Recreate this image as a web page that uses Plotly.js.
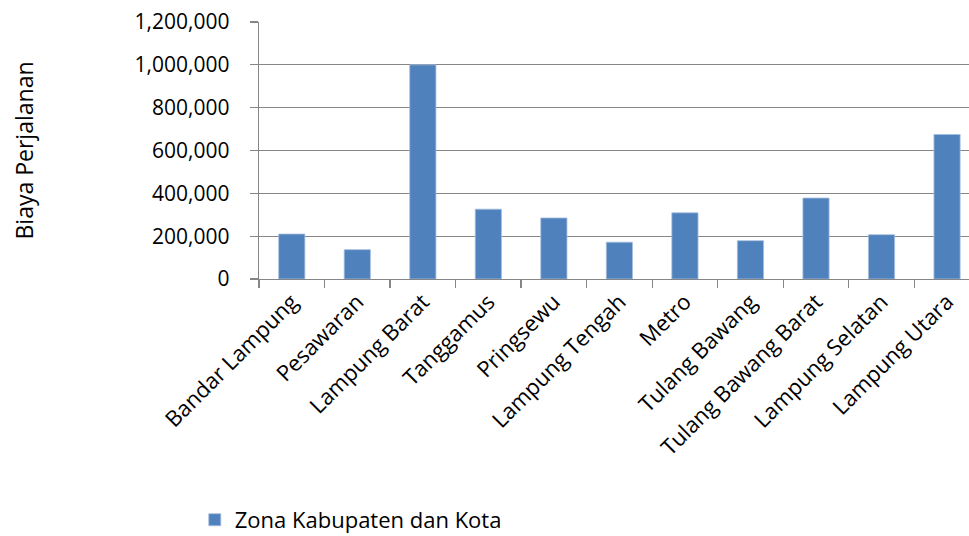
<!DOCTYPE html>
<html>
<head>
<meta charset="utf-8">
<script src="https://cdn.plot.ly/plotly-3.0.1.min.js"></script>
<style>html,body{margin:0;padding:0;background:#fff;}#chart{width:969px;height:536px;}</style>
</head>
<body>
<div id="chart"></div>
<script>
const categories = ["Bandar Lampung", "Pesawaran", "Lampung Barat", "Tanggamus", "Pringsewu", "Lampung Tengah", "Metro", "Tulang Bawang", "Tulang Bawang Barat", "Lampung Selatan", "Lampung Utara"];
const biaya = [210000, 137000, 1000000, 326000, 285000, 172000, 309000, 179000, 378000, 207000, 675000];
const seriesName = "Zona Kabupaten dan Kota";
const yTicks = [0, 200000, 400000, 600000, 800000, 1000000, 1200000];

const FONT = "Open Sans, Noto Sans, sans-serif";
const GRID = "#868686";

const trace = {
  type: "bar",
  x: categories,
  y: biaya,
  name: seriesName,
  marker: {color: "#4F81BD", line: {color: "#A7BFDE", width: 0.8}},
  showlegend: true
};

const layout = {
  width: 969, height: 536,
  margin: {l: 259, r: 0, t: 22, b: 257, pad: 0},
  paper_bgcolor: "#fff", plot_bgcolor: "#fff",
  font: {family: FONT, size: 21, color: "#000"},
  bargap: 0.6,
  showlegend: true,
  legend: {
    orientation: "h", xref: "container", yref: "container",
    x: 0.201, xanchor: "left", y: 0.03, yanchor: "middle",
    font: {family: FONT, size: 22, color: "#000"}
  },
  xaxis: {
    type: "category",
    range: [-0.5, 10.335],
    tickangle: -45,
    ticks: "outside", ticklen: 8, tickwidth: 1.3, tickcolor: GRID,
    tickson: "boundaries",
    showline: true, linecolor: GRID, linewidth: 1.3,
    showgrid: false,
    tickfont: {family: FONT, size: 22, color: "#000"}
  },
  yaxis: {
    range: [0, 1200000],
    tickvals: yTicks,
    tickformat: ",d",
    ticks: "outside", ticklen: 8, tickwidth: 1.3, tickcolor: GRID,
    ticklabelstandoff: 16,
    showline: true, linecolor: GRID, linewidth: 1.3,
    showgrid: true, gridcolor: GRID, gridwidth: 1.3,
    zeroline: false,
    tickfont: {family: FONT, size: 21, color: "#000"},
    title: {text: "Biaya Perjalanan", standoff: 94, font: {family: FONT, size: 23, color: "#000"}}
  }
};

Plotly.newPlot("chart", [trace], layout, {displayModeBar: false, staticPlot: true});
</script>
</body>
</html>
